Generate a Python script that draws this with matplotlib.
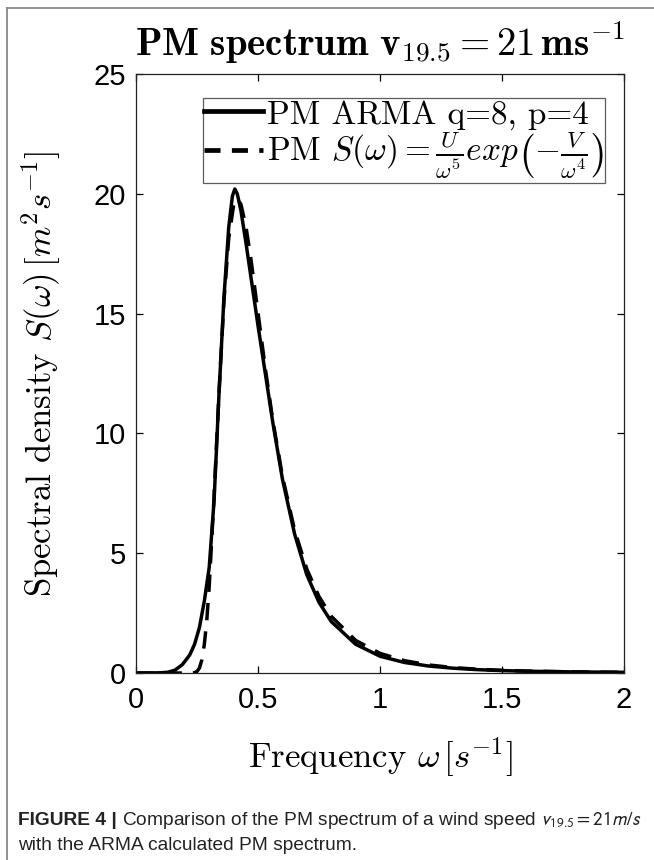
import matplotlib
matplotlib.use("Agg")
import matplotlib.pyplot as plt
from matplotlib.lines import Line2D

plt.rcParams['mathtext.fontset'] = 'cm'
plt.rcParams['font.family'] = ['Liberation Sans', 'DejaVu Sans']

# ARMA-estimated PM spectrum (solid)
arma_w = [0.0, 0.05, 0.10, 0.13, 0.16, 0.19, 0.22, 0.24, 0.26, 0.28, 0.30, 0.32,
          0.34, 0.36, 0.38, 0.395, 0.405, 0.415, 0.43, 0.45, 0.47, 0.50, 0.53,
          0.56, 0.60, 0.65, 0.70, 0.75, 0.80, 0.90, 1.0, 1.1, 1.2, 1.3, 1.4,
          1.5, 1.6, 1.8, 2.0]
arma_s = [0.0, 0.0, 0.01, 0.03, 0.12, 0.35, 0.75, 1.2, 1.9, 3.0, 4.4, 7.2,
          11.6, 15.6, 18.6, 19.9, 20.2, 20.0, 19.3, 18.0, 16.6, 14.5, 12.5,
          10.5, 8.1, 5.8, 4.1, 2.95, 2.15, 1.2, 0.7, 0.44, 0.29, 0.2, 0.14,
          0.1, 0.075, 0.045, 0.03]

# Analytical PM spectrum (dashed)
pm_w = [0.0, 0.10, 0.20, 0.22, 0.24, 0.25, 0.26, 0.27, 0.28, 0.29, 0.30, 0.32,
        0.34, 0.36, 0.38, 0.40, 0.415, 0.43, 0.45, 0.47, 0.50, 0.53, 0.56,
        0.60, 0.65, 0.70, 0.75, 0.80, 0.90, 1.0, 1.1, 1.2, 1.3, 1.4, 1.5,
        1.6, 1.8, 2.0]
pm_s = [0.0, 0.0, 0.0, 0.0, 0.015, 0.066, 0.21, 0.55, 1.19, 2.19, 3.6, 7.39,
        11.68, 15.47, 18.14, 19.52, 19.8, 19.56, 18.67, 17.35, 15.04, 12.71,
        10.59, 8.22, 5.96, 4.34, 3.19, 2.37, 1.36, 0.82, 0.515, 0.336, 0.226,
        0.157, 0.111, 0.081, 0.045, 0.027]

x_ticks = [0, 0.5, 1, 1.5, 2]
x_tick_labels = ['0', '0.5', '1', '1.5', '2']
y_ticks = [0, 5, 10, 15, 20, 25]
y_tick_labels = ['0', '5', '10', '15', '20', '25']

W, H = 654, 860
fig = plt.figure(figsize=(W / 100, H / 100), dpi=100)
ax = fig.add_axes([136 / W, 1 - 673 / H, (624 - 136) / W, (673 - 74) / H])

DASH = (0, (5.0, 3.2))
ax.plot(arma_w, arma_s, color='black', lw=2.5, solid_joinstyle='round',
        label='PM ARMA q=8, p=4')
ax.plot(pm_w, pm_s, color='black', lw=2.5, linestyle=DASH, label='PM')

ax.set_xlim(0, 2)
ax.set_ylim(0, 25)
ax.set_xticks(x_ticks)
ax.set_xticklabels(x_tick_labels)
ax.set_yticks(y_ticks)
ax.set_yticklabels(y_tick_labels)
ax.tick_params(direction='in', length=5, width=0.9, top=True, right=True,
               labelsize=21, colors='black')
ax.tick_params(axis='y', pad=7)
ax.tick_params(axis='x', pad=9)
for s in ax.spines.values():
    s.set_linewidth(0.9)
    s.set_color('#222222')

ax.set_title(r'$\mathbf{PM\ spectrum\ v_{19.5} = 21\,ms^{-1}}$', fontsize=28, pad=13)
ax.set_xlabel(r'Frequency $\omega\,[s^{-1}]$', fontsize=25, family='cmr10', labelpad=16)
ax.set_ylabel(r'Spectral density $S(\omega)\,[m^2s^{-1}]$', fontsize=25,
              family='cmr10', labelpad=22)

handles = [Line2D([], [], color='black', lw=3.4),
           Line2D([], [], color='black', lw=3.4, linestyle=(0, (3.4, 2.4)))]
labels = ['PM ARMA q=8, p=4',
          r'PM $S(\omega) = \frac{U}{\omega^5} exp\left(-\frac{V}{\omega^4}\right)$']
leg = ax.legend(handles, labels, loc='upper right', bbox_to_anchor=(0.961, 0.960),
                prop={'family': 'cmr10', 'size': 24}, frameon=True, fancybox=False,
                borderpad=0.05, handlelength=1.75, handletextpad=0.12,
                labelspacing=0.0, borderaxespad=0.0)
leg.get_frame().set_edgecolor('#333333')
leg.get_frame().set_linewidth(0.9)

# outer frame lines (left and top)
fig.add_artist(Line2D([7 / W, 7 / W], [0, 1 - 8 / H], transform=fig.transFigure,
                      color='#888888', lw=1.3))
fig.add_artist(Line2D([7 / W, 1], [1 - 8 / H, 1 - 8 / H], transform=fig.transFigure,
                      color='#888888', lw=1.3))

# caption
cap_font = ['Liberation Sans', 'DejaVu Sans']
renderer = fig.canvas.get_renderer()
fs = 12.0
t1 = fig.text(18 / W, 1 - 825 / H, 'FIGURE 4 | ', fontsize=fs, fontweight='bold',
              family=cap_font, color='#222222', va='baseline')
t2 = fig.text(0, 1 - 825 / H,
              r'Comparison of the PM spectrum of a wind speed $v_{19.5} = 21m/s$',
              fontsize=fs, family=cap_font, color='#222222', va='baseline',
              math_fontfamily='stixsans')
t3 = fig.text(18 / W, 1 - 850 / H, 'with the ARMA calculated PM spectrum.',
              fontsize=fs, family=cap_font, color='#222222', va='baseline')
w1 = t1.get_window_extent(renderer).width
w2 = t2.get_window_extent(renderer).width
scale = (640 - 18) / (w1 + w2)
for t in (t1, t2, t3):
    t.set_fontsize(fs * scale)
w1 = t1.get_window_extent(renderer).width
t2.set_x((18 + w1) / W)

fig.savefig('out.png', dpi=100)
